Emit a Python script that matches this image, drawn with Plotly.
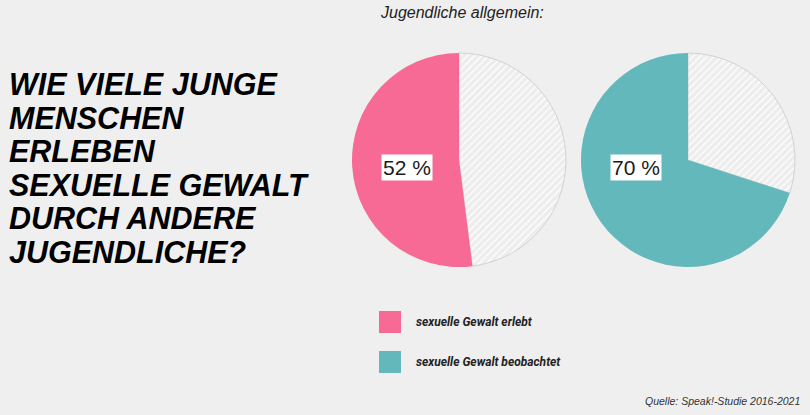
import plotly.graph_objects as go

# ---- data ----
categories = ["sexuelle Gewalt erlebt", "sexuelle Gewalt beobachtet"]
shares = [52, 70]
colors = ["#f66a95", "#63b8bb"]
rest_color = "#ededed"
title_lines = ["WIE VIELE JUNGE", "MENSCHEN", "ERLEBEN", "SEXUELLE GEWALT",
               "DURCH ANDERE", "JUGENDLICHE?"]
subtitle = "Jugendliche allgemein:"
source = "Quelle: Speak!-Studie 2016-2021"

W, H = 810, 415
bg = "#efefef"

# pie domains (pixel layout -> paper)
pie_boxes = [(352, 566, 53, 267), (581, 795, 53, 267)]

fig = go.Figure()
annotations = []
shapes = []
for i, (cat, val, col) in enumerate(zip(categories, shares, colors)):
    x0, x1, y0, y1 = pie_boxes[i]
    dom_x = [x0 / W, x1 / W]
    dom_y = [1 - y1 / H, 1 - y0 / H]
    # remainder first, drawn clockwise from 12 o'clock, so the share ends at 12 o'clock
    fig.add_trace(go.Pie(
        labels=["Rest", cat],
        values=[100 - val, val],
        sort=False,
        direction="clockwise",
        rotation=0,
        textinfo="none",
        hoverinfo="skip",
        showlegend=False,
        domain=dict(x=dom_x, y=dom_y),
        marker=dict(
            colors=[rest_color, col],
            line=dict(color=["#d2d2d2", "rgba(0,0,0,0)"], width=[1, 0]),
            pattern=dict(shape=["/", ""], fgcolor="#ffffff", size=5, solidity=0.25,
                         bgcolor=[rest_color, col]),
        ),
    ))
    cx = (x0 + x1) / 2
    cy = (y0 + y1) / 2
    r = (x1 - x0) / 2
    annotations.append(dict(
        x=(cx - 0.49 * r) / W, y=1 - (cy + 7) / H, xref="paper", yref="paper",
        text=f"{val} %", showarrow=False, xanchor="center", yanchor="middle",
        font=dict(family="Liberation Sans", size=21, color="#1a1a1a"),
        bgcolor="white", borderpad=1,
    ))
    # legend entries
    ly = 322 + i * 40
    shapes.append(dict(type="rect", xref="paper", yref="paper",
                       x0=379 / W, x1=401 / W, y0=1 - (ly + 11) / H, y1=1 - (ly - 11) / H,
                       fillcolor=col, line=dict(width=0)))
    annotations.append(dict(
        x=414 / W, y=1 - ly / H, xref="paper", yref="paper", text=cat,
        showarrow=False, xanchor="left", yanchor="middle",
        font=dict(family="Roboto", size=12, color="#222", weight="bold", style="italic"),
    ))

# title lines
for j, line in enumerate(title_lines):
    annotations.append(dict(
        x=7 / W, y=1 - (84 + j * 33.6) / H, xref="paper", yref="paper", text=line,
        showarrow=False, xanchor="left", yanchor="middle",
        font=dict(family="Liberation Sans", size=30.5, color="black", weight="bold", style="italic"),
    ))

annotations.append(dict(
    x=462 / W, y=1 - 13 / H, xref="paper", yref="paper", text=subtitle,
    showarrow=False, xanchor="center", yanchor="middle",
    font=dict(family="Liberation Sans", size=16, color="#222", style="italic"),
))
annotations.append(dict(
    x=802 / W, y=1 - 401 / H, xref="paper", yref="paper", text=source,
    showarrow=False, xanchor="right", yanchor="middle",
    font=dict(family="Liberation Sans", size=10.5, color="#333", style="italic"),
))

fig.update_layout(
    width=W, height=H,
    margin=dict(l=0, r=0, t=0, b=0),
    paper_bgcolor=bg, plot_bgcolor=bg,
    annotations=annotations, shapes=shapes,
    showlegend=False,
)
fig.write_html(
    "out.html",
    config={"displayModeBar": False},
    post_script="document.body.style.margin='0';document.body.style.background='#efefef';",
)
